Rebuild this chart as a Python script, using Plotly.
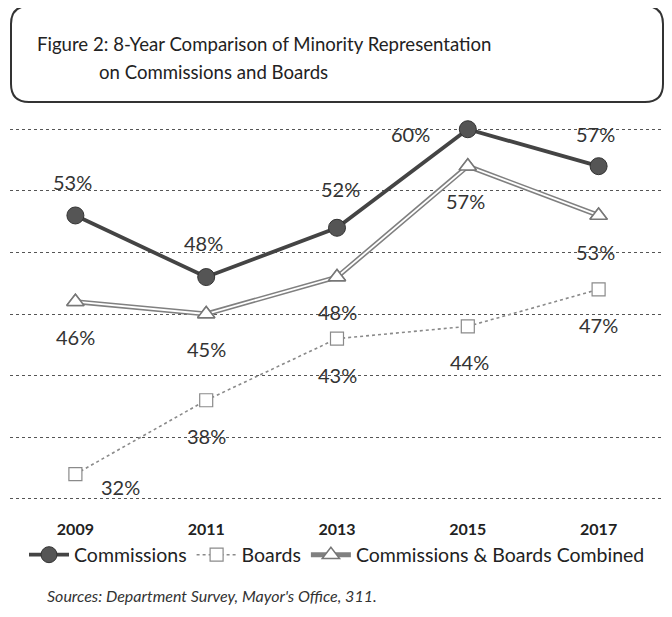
import plotly.graph_objects as go

years = ["2009", "2011", "2013", "2015", "2017"]
commissions = [53, 48, 52, 60, 57]
boards = [32, 38, 43, 44, 47]
combined = [46, 45, 48, 57, 53]

# label offsets (px) relative to each point
comm_shift = [(-3, 33), (-3, 34), (3, 39), (-57, -5), (-3, 32)]
comb_shift = [(0, -35), (0, -35), (0, -35), (-2, -35), (-3, -37)]
board_shift = [(45, -13), (0, -36), (0, -36), (2, -36), (0, -36)]

# page body has an 8px margin, so the figure is shrunk to fit the window
OFF = 8
W, H = 656, 601
L, R, T, B = 2, 0, 120, 109


def px(x):
    return (x - OFF - L) / (W - L - R)


def py(y):
    return (H - B - (y - OFF)) / (H - T - B)


fig = go.Figure()

fig.add_trace(go.Scatter(
    x=years, y=boards, name="Boards", mode="lines+markers",
    line=dict(color="#8a8a8a", width=1.6, dash="dot"),
    marker=dict(symbol="square", size=13, color="white",
                line=dict(color="#8a8a8a", width=1.2)),
    legendrank=2, cliponaxis=False,
))

fig.add_trace(go.Scatter(
    x=years, y=combined, name="Commissions & Boards Combined", mode="lines+markers",
    line=dict(color="#808080", width=5),
    marker=dict(symbol="triangle-up", size=15, color="white",
                line=dict(color="#777777", width=1.5)),
    legendrank=3, cliponaxis=False,
))
fig.add_trace(go.Scatter(
    x=years, y=combined, mode="lines", showlegend=False, hoverinfo="skip",
    line=dict(color="white", width=1.8), cliponaxis=False,
))
fig.add_trace(go.Scatter(
    x=years, y=combined, mode="markers", showlegend=False, hoverinfo="skip",
    marker=dict(symbol="triangle-up", size=15, color="white",
                line=dict(color="#777777", width=1.5)),
    cliponaxis=False,
))

fig.add_trace(go.Scatter(
    x=years, y=commissions, name="Commissions", mode="lines+markers",
    line=dict(color="#444444", width=3.8),
    marker=dict(symbol="circle", size=17, color="#555555",
                line=dict(color="#333333", width=1)),
    legendrank=1, cliponaxis=False,
))

annotations = []
for series, shifts in ((commissions, comm_shift), (combined, comb_shift), (boards, board_shift)):
    for i, (v, (dx, dy)) in enumerate(zip(series, shifts)):
        annotations.append(dict(
            x=i, y=v, xref="x", yref="y", text=f"{v}%", showarrow=False,
            xshift=dx, yshift=dy, font=dict(family="Lato", size=20, color="#333333"),
        ))

annotations += [
    dict(text="Figure 2: 8-Year Comparison of Minority Representation",
         x=px(35), y=py(44), xref="paper", yref="paper", xanchor="left", yanchor="middle",
         showarrow=False, font=dict(family="Lato", size=18.6, color="#222222")),
    dict(text="on Commissions and Boards",
         x=px(97), y=py(72), xref="paper", yref="paper", xanchor="left", yanchor="middle",
         showarrow=False, font=dict(family="Lato", size=18.6, color="#222222")),
    dict(text="<i>Sources: Department Survey, Mayor's Office, 311.</i>",
         x=px(45), y=py(595), xref="paper", yref="paper", xanchor="left", yanchor="middle",
         showarrow=False, font=dict(family="Lato", size=16, color="#333333")),
]

# rounded title box
x0, x1, y0, y1 = px(11), px(663), py(6), py(102)
rx, ry = 18 / (W - L - R), 18 / (H - T - B)
box = (f"M {x0 + rx},{y0} L {x1 - rx},{y0} Q {x1},{y0} {x1},{y0 - ry} "
       f"L {x1},{y1 + ry} Q {x1},{y1} {x1 - rx},{y1} L {x0 + rx},{y1} "
       f"Q {x0},{y1} {x0},{y1 + ry} L {x0},{y0 - ry} Q {x0},{y0} {x0 + rx},{y0} Z")

fig.update_layout(
    width=W, height=H,
    margin=dict(l=L, r=R, t=T, b=B),
    paper_bgcolor="white", plot_bgcolor="white",
    showlegend=True,
    legend=dict(orientation="h", x=0.5, xanchor="center", y=py(555), yanchor="middle",
                font=dict(family="Lato", size=19.5, color="#222222"),
                itemwidth=40, tracegroupgap=0),
    annotations=annotations,
    shapes=[dict(type="path", path=box, xref="paper", yref="paper",
                 line=dict(color="#333333", width=2))],
    xaxis=dict(type="category", range=[-0.5, 4.5], showgrid=False, zeroline=False,
               showline=False, ticks="", ticklabelstandoff=18,
               tickfont=dict(family="Lato", size=16, color="#222222", weight="bold")),
    yaxis=dict(range=[29.9, 60.1], dtick=5, showticklabels=False, zeroline=False,
               showline=False, gridcolor="#555555", gridwidth=1, griddash="dot"),
)

fig.write_html("out.html")
